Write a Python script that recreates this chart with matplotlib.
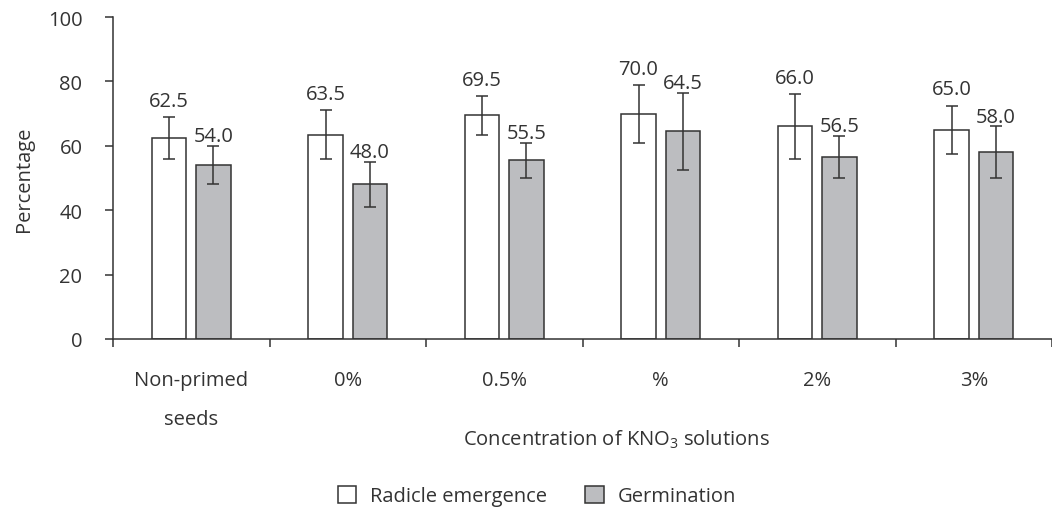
import numpy as np
import matplotlib.pyplot as plt
from matplotlib.patches import Patch

# datos
categorias = ['Non-primed\nseeds', '0%', '0.5%', '%', '2%', '3%']
radicula = [62.5, 63.5, 69.5, 70.0, 66.0, 65.0]   # Radicle emergence
radicula_err = [6.5, 7.5, 6.0, 9.0, 10.0, 7.5]
germinacion = [54.0, 48.0, 55.5, 64.5, 56.5, 58.0]   # Germination
germinacion_err = [6.0, 7.0, 5.5, 12.0, 6.5, 8.0]
yticks = [0, 20, 40, 60, 80, 100]

plt.rcParams['font.family'] = ['Open Sans', 'DejaVu Sans']
plt.rcParams['mathtext.fontset'] = 'custom'
plt.rcParams['mathtext.rm'] = 'Open Sans'
plt.rcParams['mathtext.it'] = 'Open Sans'

txt = '#333333'
linea = '#333333'
gris = '#bcbdc0'
fs = 14.5

fig = plt.figure(figsize=(10.52, 5.10), dpi=100)
ax = fig.add_axes([113/1052, 1 - 340/510, 939/1052, 322/510])

x = np.arange(len(categorias))
w = 0.223
off = 0.142

ax.bar(x - off, radicula, w, color='white', edgecolor=linea, linewidth=1.1, zorder=2)
ax.bar(x + off, germinacion, w, color=gris, edgecolor=linea, linewidth=1.1, zorder=2)
ax.errorbar(x - off, radicula, yerr=radicula_err, fmt='none', ecolor=linea,
            elinewidth=1.1, capsize=4, capthick=1.1, zorder=3)
ax.errorbar(x + off, germinacion, yerr=germinacion_err, fmt='none', ecolor=linea,
            elinewidth=1.1, capsize=4, capthick=1.1, zorder=3)

# etiquetas de valor sobre la barra de error
for xi, v, e in zip(x - off, radicula, radicula_err):
    ax.annotate(f'{v:.1f}', (xi, v + e), xytext=(0, 8), textcoords='offset points',
                ha='center', va='baseline', fontsize=fs, color=txt)
for xi, v, e in zip(x + off, germinacion, germinacion_err):
    ax.annotate(f'{v:.1f}', (xi, v + e), xytext=(0, 3.5), textcoords='offset points',
                ha='center', va='baseline', fontsize=fs, color=txt)

ax.set_xlim(-0.5, 5.48)
ax.set_ylim(0, 100)
ax.set_yticks(yticks)
ax.set_yticklabels([str(t) for t in yticks], fontsize=fs, color=txt)
ax.tick_params(axis='y', direction='out', length=6, width=1.1, color=linea, pad=16)

ax.set_xticks(x)
ax.set_xticklabels(categorias, fontsize=fs, color=txt, linespacing=2.3)
ax.set_xticks(np.arange(-0.5, 6, 1), minor=True)
ax.tick_params(axis='x', which='major', length=0, pad=22)
ax.tick_params(axis='x', which='minor', direction='out', length=6, width=1.1, color=linea)

for s in ['top', 'right']:
    ax.spines[s].set_visible(False)
for s in ['left', 'bottom']:
    ax.spines[s].set_color(linea)
    ax.spines[s].set_linewidth(1.1)

ax.set_ylabel('Percentage', fontsize=fs, color=txt, labelpad=10)
fig.text(616/1052, 1 - 440/510, 'Concentration of KNO$_3$ solutions',
         ha='center', va='center', fontsize=fs, color=txt)

handles = [Patch(facecolor='white', edgecolor=linea, linewidth=1.1, label='Radicle emergence'),
           Patch(facecolor=gris, edgecolor=linea, linewidth=1.1, label='Germination')]
leg = fig.legend(handles=handles, loc='center', bbox_to_anchor=(537/1052, 1 - 497/510),
                 ncol=2, frameon=False, fontsize=fs, handlelength=0.9, handleheight=0.9,
                 handletextpad=0.7, columnspacing=1.9)
for t in leg.get_texts():
    t.set_color(txt)

fig.savefig('out.png', dpi=100)
